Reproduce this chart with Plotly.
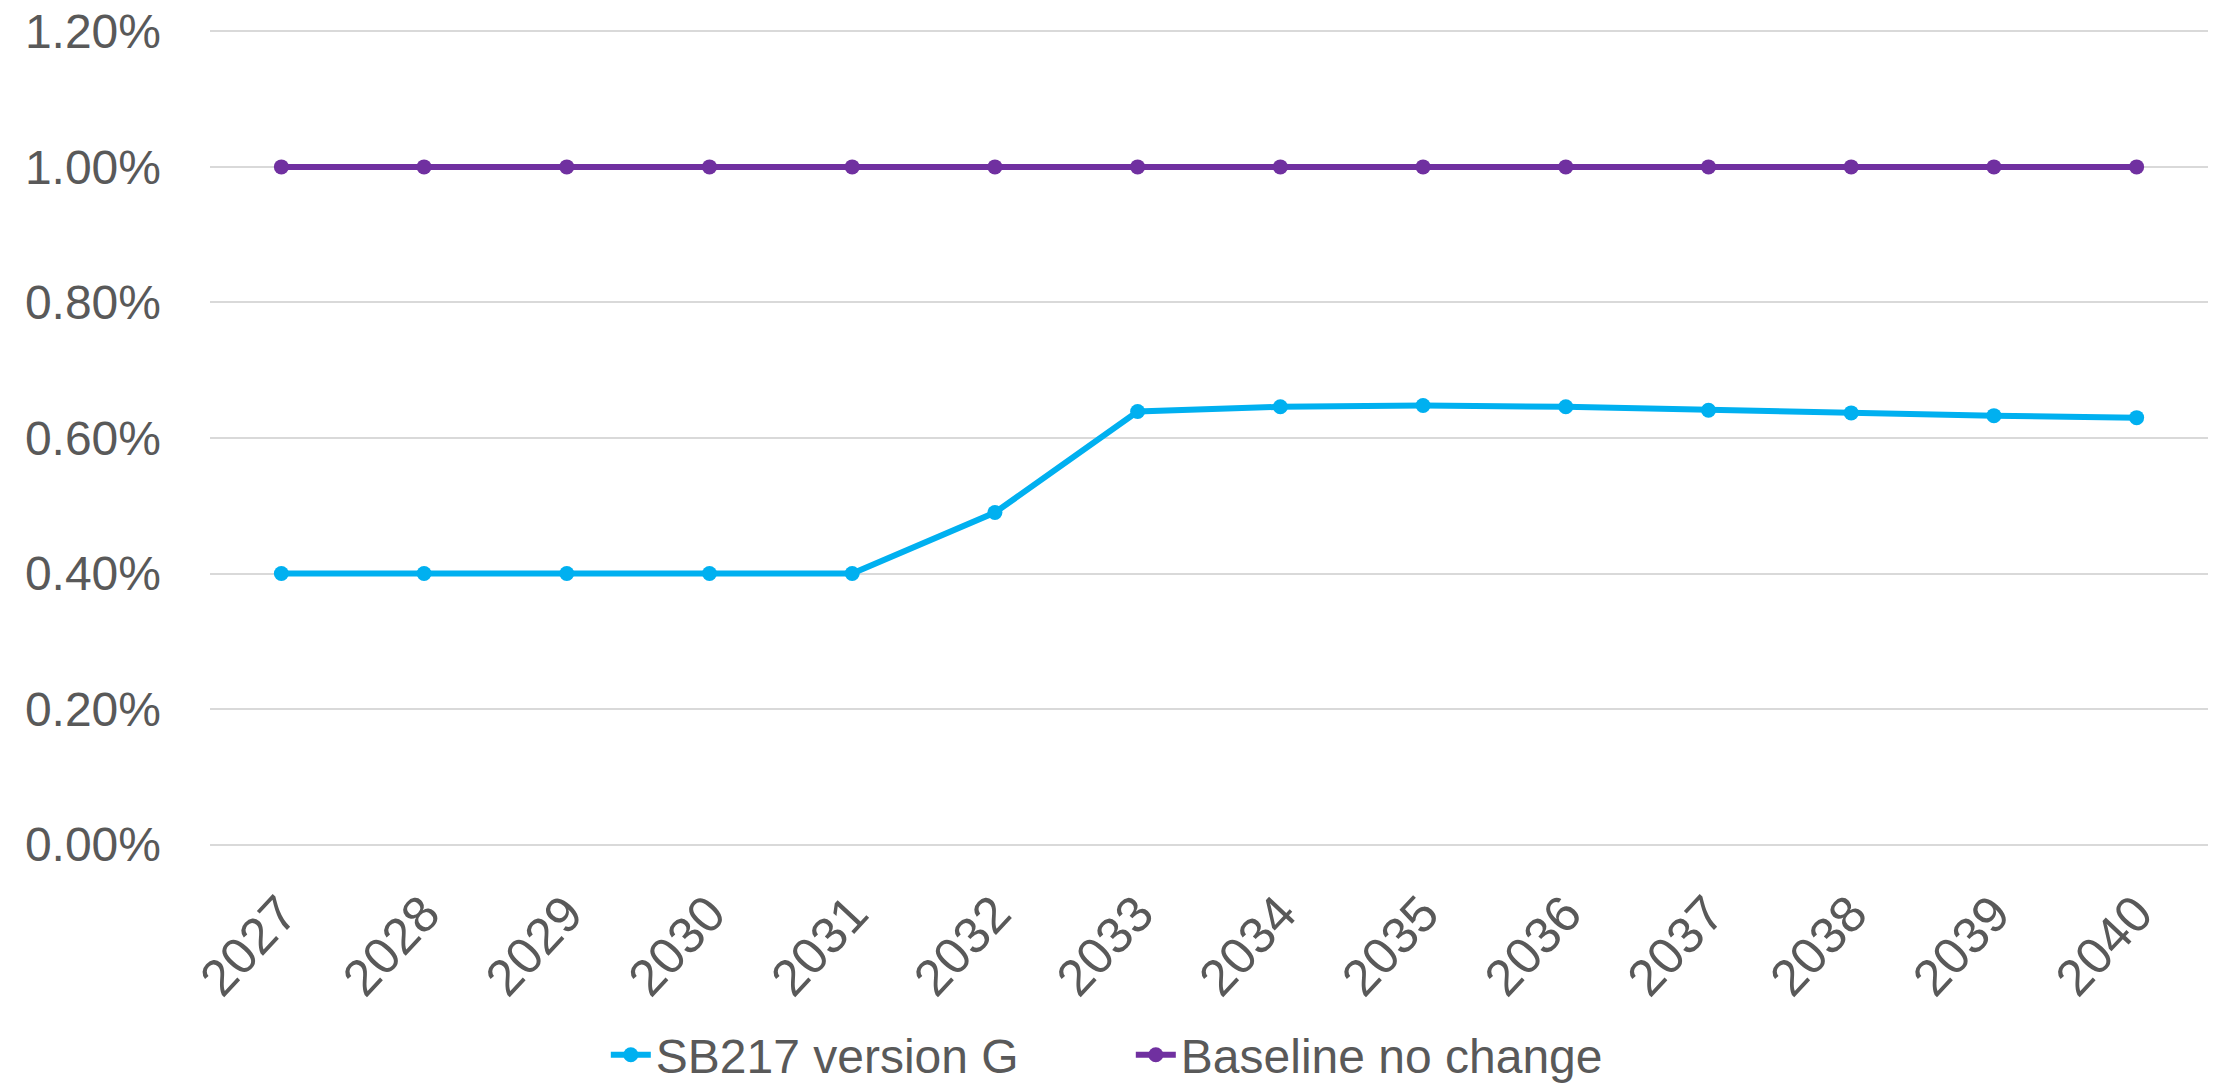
import plotly.graph_objects as go

years = ["2027", "2028", "2029", "2030", "2031", "2032", "2033",
         "2034", "2035", "2036", "2037", "2038", "2039", "2040"]
sb217_g = [0.0040, 0.0040, 0.0040, 0.0040, 0.0040, 0.0049, 0.00639,
           0.00646, 0.00648, 0.00646, 0.00641, 0.00637, 0.00633, 0.00630]
baseline = [0.0100] * 14
y_ticks = [0, 0.002, 0.004, 0.006, 0.008, 0.010, 0.012]

fig = go.Figure()
fig.add_trace(go.Scatter(x=years, y=sb217_g, name="SB217 version G",
                         mode="lines+markers",
                         line=dict(color="#00B0F0", width=6),
                         marker=dict(size=15, color="#00B0F0")))
fig.add_trace(go.Scatter(x=years, y=baseline, name="Baseline no change",
                         mode="lines+markers",
                         line=dict(color="#7030A0", width=6),
                         marker=dict(size=15, color="#7030A0")))

font_family = "Liberation Sans, Arial, sans-serif"
fig.update_layout(
    width=2226, height=1091,
    margin=dict(l=210, r=18, t=30, b=245, autoexpand=False),
    paper_bgcolor="white", plot_bgcolor="white",
    font=dict(family=font_family, size=48, color="#595959"),
    showlegend=True,
    legend=dict(orientation="h", xref="container", x=0.508, xanchor="center",
                yref="container", y=0.033, yanchor="middle",
                font=dict(size=48, color="#595959"),
                entrywidth=470, entrywidthmode="pixels",
                itemwidth=40, tracegroupgap=0),
    xaxis=dict(type="category", range=[-0.5, 13.5], tickangle=-47,
               showgrid=False, showline=False, zeroline=False,
               ticks="", ticklabelstandoff=26, automargin=False,
               tickfont=dict(size=51, color="#595959")),
    yaxis=dict(range=[-0.00002, 0.01202], tickvals=y_ticks, tickformat=".2%",
               showgrid=True, gridcolor="#D9D9D9", gridwidth=2,
               zeroline=False, showline=False, ticks="",
               ticklabelstandoff=48, automargin=False,
               tickfont=dict(size=48, color="#595959")),
)

fig.write_html("out.html", config={"displayModeBar": False},
               post_script="document.body.style.margin='0px';")
